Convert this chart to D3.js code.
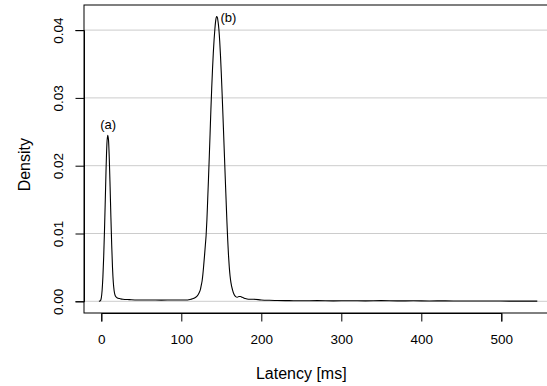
<!DOCTYPE html>
<html>
<head>
<meta charset="utf-8">
<script src="https://cdn.jsdelivr.net/npm/d3@7"></script>
<style>
  html, body { margin: 0; padding: 0; background: #fff; }
  svg { display: block; }
  text { font-family: "Liberation Sans", Arial, Helvetica, sans-serif; fill: #000; }
</style>
</head>
<body>
<svg id="chart" width="547" height="386"></svg>
<script>
// ---- data ----
const latency = [
  -3, -2, -1, 0, 1, 2, 3, 4, 5, 6, 7, 8, 9, 10, 11, 12, 13, 14, 15, 16, 17, 18, 20, 23, 27, 35, 45, 60, 75, 90, 100, 108,
  112, 115, 118, 120, 122, 124, 125, 126, 127, 128, 129, 130, 131, 132, 133, 134, 135, 136, 137, 138, 139, 140,
  141, 142, 143, 144, 145, 146, 147, 148, 149, 150, 151, 152, 153, 154, 155, 156, 157, 158, 159, 160, 161, 162,
  164, 166, 168, 170, 172, 174, 176, 178, 180, 184, 190, 200, 210, 220, 235, 250, 270, 290, 310, 330, 350, 370,
  390, 410, 430, 450, 470, 490, 510, 530, 545
];
const density = [
  0, 0.00003, 0.0001, 0.0005, 0.0016, 0.0036, 0.0066, 0.0105, 0.0150, 0.0197, 0.0232, 0.0245, 0.0238, 0.0210, 0.0169, 0.0124, 0.0083, 0.0050, 0.0028, 0.0016, 0.0010, 0.0007, 0.0005, 0.0004, 0.0003, 0.00025, 0.0002, 0.0002, 0.00018, 0.0002, 0.0002, 0.0002,
  0.0003, 0.0004, 0.0006, 0.0008, 0.0012, 0.0018, 0.0024, 0.0030, 0.0040, 0.0053, 0.0067, 0.0082, 0.0097, 0.0120, 0.0150, 0.0181, 0.0214, 0.0248, 0.0283, 0.0314, 0.0342, 0.0366,
  0.0386, 0.0402, 0.0414, 0.0420, 0.0419, 0.0412, 0.0401, 0.0384, 0.0362, 0.0336, 0.0307, 0.0276, 0.0244, 0.0212, 0.0180, 0.0149, 0.0118, 0.0091, 0.0068, 0.0050, 0.0037, 0.0028,
  0.0017, 0.0010, 0.0007, 0.0006, 0.0007, 0.0007, 0.0006, 0.0005, 0.0004, 0.0003, 0.0003, 0.0002, 0.00015, 0.00012, 0.0001, 0.00008, 0.0001, 0.00007, 0.00009, 0.00006, 0.0001, 0.00006,
  0.00008, 0.00005, 0.00007, 0.00004, 0.00005, 0.00004, 0.00003, 0.00003, 0.00002
];
const xTicks = [0, 100, 200, 300, 400, 500];
const yTicks = [0, 0.01, 0.02, 0.03, 0.04];
const yTickLabels = ["0.00", "0.01", "0.02", "0.03", "0.04"];
const peakLabels = [
  { text: "(a)", x: 8, y: 0.0245 },
  { text: "(b)", x: 144, y: 0.0420 }
];
const xTitle = "Latency [ms]";
const yTitle = "Density";

// ---- layout ----
const box = { left: 84, right: 548, top: 5, bottom: 313 };
const svg = d3.select("#chart");

const x = d3.scaleLinear().domain([0, 500]).range([101.3, 501.3]);
const y = d3.scaleLinear().domain([0, 0.04]).range([301.3, 30.1]);

// gridlines
svg.append("g").selectAll("line").data(yTicks).join("line")
  .attr("x1", box.left).attr("x2", box.right)
  .attr("y1", d => y(d)).attr("y2", d => y(d))
  .attr("stroke", "#cccccc").attr("stroke-width", 1);

// density curve
const line = d3.line()
  .x((d, i) => x(latency[i]))
  .y(d => y(d))
  .curve(d3.curveMonotoneX);
svg.append("path")
  .attr("d", line(density))
  .attr("fill", "none")
  .attr("stroke", "#000")
  .attr("stroke-width", 1.1)
  .attr("stroke-linejoin", "round");

// box
svg.append("rect")
  .attr("x", box.left).attr("y", box.top)
  .attr("width", box.right - box.left).attr("height", box.bottom - box.top)
  .attr("fill", "none").attr("stroke", "#000").attr("stroke-width", 1);

// x axis
const xAxis = d3.axisBottom(x).tickValues(xTicks).tickSize(8.5).tickPadding(13).tickFormat(d3.format("d"));
const gx = svg.append("g").attr("transform", `translate(0,${box.bottom})`).call(xAxis);
gx.select(".domain").attr("stroke", "#000");
gx.selectAll(".tick line").attr("stroke", "#000");
gx.selectAll(".tick text").attr("font-size", 13.5).attr("font-family", "Liberation Sans, Arial, sans-serif").attr("fill", "#000");

// y axis
const yAxis = d3.axisLeft(y).tickValues(yTicks).tickSize(8.5).tickFormat((d, i) => yTickLabels[i]);
const gy = svg.append("g").attr("transform", `translate(${box.left},0)`).call(yAxis);
gy.select(".domain").attr("stroke", "#000");
gy.selectAll(".tick line").attr("stroke", "#000");
gy.selectAll(".tick text")
  .attr("font-size", 13.5).attr("font-family", "Liberation Sans, Arial, sans-serif").attr("fill", "#000")
  .attr("x", null).attr("dy", null)
  .attr("text-anchor", "middle")
  .attr("transform", "translate(-25,0) rotate(-90)")
  .attr("y", 0)
  .attr("dominant-baseline", "middle");

// peak labels
svg.append("text").attr("x", x(peakLabels[0].x) + 0.5).attr("y", y(peakLabels[0].y) - 6)
  .attr("text-anchor", "middle").attr("font-size", 13).text(peakLabels[0].text);
svg.append("text").attr("x", x(peakLabels[1].x) + 4).attr("y", y(peakLabels[1].y) + 5)
  .attr("text-anchor", "start").attr("font-size", 13).text(peakLabels[1].text);

// axis titles
svg.append("text").attr("x", (x(0) + x(500)) / 2 + 0).attr("y", 379)
  .attr("text-anchor", "middle").attr("font-size", 16).text(xTitle);
svg.append("text").attr("transform", `translate(30,${(y(0) + y(0.04)) / 2 - 1}) rotate(-90)`)
  .attr("text-anchor", "middle").attr("font-size", 16).text(yTitle);
</script>
</body>
</html>
